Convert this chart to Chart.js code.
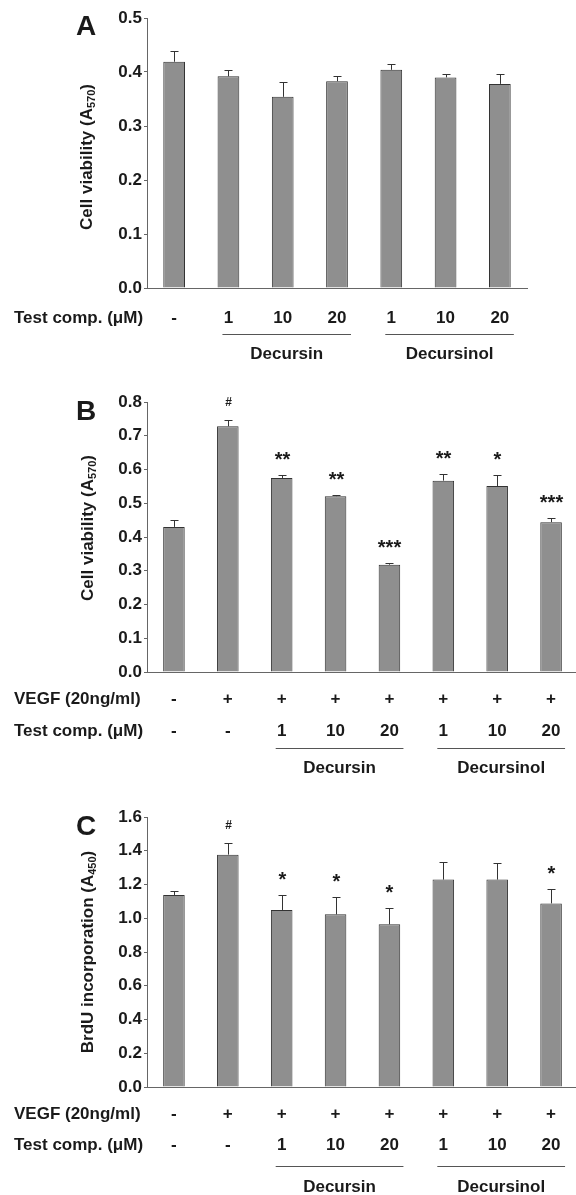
<!DOCTYPE html>
<html>
<head>
<meta charset="utf-8">
<script src="https://cdn.jsdelivr.net/npm/chart.js@4.4.1/dist/chart.umd.min.js"></script>
<style>
  html, body { margin: 0; padding: 0; background: #fff; overflow: hidden; width: 576px; height: 1195px; }
  canvas { position: absolute; left: 0; }
</style>
</head>
<body>
<canvas id="chartA"></canvas>
<canvas id="chartB"></canvas>
<canvas id="chartC"></canvas>
<script>
// ---- data ----
// Panel A: cell viability without VEGF
const testCompA = ["-", "1", "10", "20", "1", "10", "20"];
const viabilityA = [0.419, 0.392, 0.354, 0.383, 0.404, 0.390, 0.378];
const viabilityErrA = [0.019, 0.011, 0.027, 0.010, 0.010, 0.007, 0.018];

// Panels B and C share the treatment rows
const vegfRow = ["-", "+", "+", "+", "+", "+", "+", "+"];
const testCompRow = ["-", "-", "1", "10", "20", "1", "10", "20"];

// Panel B: cell viability with VEGF
const viabilityB = [0.430, 0.728, 0.575, 0.521, 0.318, 0.567, 0.551, 0.444];
const viabilityErrB = [0.021, 0.018, 0.008, 0.003, 0.005, 0.019, 0.032, 0.012];
const marksB = ["", "#", "**", "**", "***", "**", "*", "***"];

// Panel C: BrdU incorporation
const brduC = [1.138, 1.377, 1.049, 1.023, 0.964, 1.229, 1.229, 1.088];
const brduErrC = [0.021, 0.069, 0.089, 0.100, 0.097, 0.107, 0.100, 0.087];
const marksC = ["", "#", "*", "*", "*", "", "", "*"];

// compound groups (first and last category index)
const groupsA = [{ name: "Decursin", from: 1, to: 3 }, { name: "Decursinol", from: 4, to: 6 }];
const groupsBC = [{ name: "Decursin", from: 2, to: 4 }, { name: "Decursinol", from: 5, to: 7 }];

const FONT = "'Liberation Sans', Arial, sans-serif";
const INK = "#1a1a1a";
const AXIS = "#666";

// error bars (upper half only) and significance marks
const errorBarsPlugin = {
  id: "errorBars",
  afterDatasetsDraw(chart, args, opts) {
    const ctx = chart.ctx;
    const yScale = chart.scales.y;
    const ds = chart.data.datasets[0];
    const meta = chart.getDatasetMeta(0);
    ctx.save();
    ctx.strokeStyle = "#333";
    ctx.lineWidth = 1;
    meta.data.forEach((bar, i) => {
      const top = Math.round(yScale.getPixelForValue(ds.data[i] + opts.errors[i])) + 0.5;
      const x = Math.round(bar.x) + 0.5;
      ctx.beginPath();
      ctx.moveTo(x, bar.y);
      ctx.lineTo(x, top);
      ctx.moveTo(x - 4, top);
      ctx.lineTo(x + 4, top);
      ctx.stroke();

      const mark = opts.marks ? opts.marks[i] : "";
      if (mark) {
        ctx.fillStyle = INK;
        ctx.textAlign = "center";
        ctx.textBaseline = "alphabetic";
        if (mark === "#") {
          ctx.font = "bold 12px " + FONT;
          ctx.fillText(mark, x, top - 15);
        } else {
          ctx.font = "bold 20px " + FONT;
          ctx.fillText(mark, x, top - 10);
        }
      }
    });
    ctx.restore();
  }
};

// panel letter, rotated y title with subscript, treatment rows and groups
const panelTextPlugin = {
  id: "panelText",
  afterDraw(chart, args, opts) {
    const ctx = chart.ctx;
    const xScale = chart.scales.x;
    const bottom = chart.chartArea.bottom;
    ctx.save();
    ctx.fillStyle = INK;

    // panel letter
    ctx.font = "bold 28px " + FONT;
    ctx.textAlign = "left";
    ctx.textBaseline = "alphabetic";
    ctx.fillText(opts.letter, 76, opts.letterY);

    // y axis title: main text + subscript
    ctx.save();
    ctx.translate(opts.titleX, opts.titleY);
    ctx.rotate(-Math.PI / 2);
    ctx.textBaseline = "middle";
    ctx.font = "bold 17px " + FONT;
    const w1 = ctx.measureText(opts.title[0]).width;
    ctx.font = "bold 11px " + FONT;
    const w2 = ctx.measureText(opts.title[1]).width;
    ctx.font = "bold 17px " + FONT;
    const w3 = ctx.measureText(opts.title[2]).width;
    let x = -(w1 + w2 + w3) / 2;
    ctx.textAlign = "left";
    ctx.fillText(opts.title[0], x, 0);
    x += w1;
    ctx.font = "bold 11px " + FONT;
    ctx.fillText(opts.title[1], x, 5);
    x += w2;
    ctx.font = "bold 17px " + FONT;
    ctx.fillText(opts.title[2], x, 0);
    ctx.restore();

    // treatment rows
    ctx.font = "bold 17px " + FONT;
    ctx.textBaseline = "middle";
    opts.rows.forEach((row) => {
      const y = bottom + row.dy;
      ctx.textAlign = "left";
      ctx.fillText(row.title, 14, y);
      ctx.textAlign = "center";
      row.values.forEach((v, i) => {
        ctx.fillText(v, xScale.getPixelForValue(i), y);
      });
    });

    // compound groups: underline + name
    opts.groups.forEach((g) => {
      const x0 = xScale.getPixelForValue(g.from) - 6;
      const x1 = xScale.getPixelForValue(g.to) + 14;
      const yl = Math.round(bottom + opts.lineDy) + 0.5;
      ctx.strokeStyle = "#555";
      ctx.lineWidth = 1;
      ctx.beginPath();
      ctx.moveTo(x0, yl);
      ctx.lineTo(x1, yl);
      ctx.stroke();
      ctx.textAlign = "center";
      ctx.fillText(g.name, (x0 + x1) / 2, bottom + opts.nameDy);
    });
    ctx.restore();
  }
};

function makePanel(id, top, width, height, pad, values, errors, marks, yMax, step, text) {
  const canvas = document.getElementById(id);
  canvas.width = width;
  canvas.height = height;
  canvas.style.top = top + "px";
  canvas.style.width = width + "px";
  canvas.style.height = height + "px";
  return new Chart(canvas, {
    type: "bar",
    data: {
      labels: values.map((v, i) => String(i)),
      datasets: [{
        data: values,
        backgroundColor: "#8f8f8f",
        borderColor: "#333",
        borderWidth: 1,
        barPercentage: 0.4,
        categoryPercentage: 1.0
      }]
    },
    options: {
      responsive: false,
      animation: false,
      devicePixelRatio: 1,
      layout: { autoPadding: false, padding: pad },
      plugins: {
        legend: { display: false },
        tooltip: { enabled: false },
        errorBars: { errors: errors, marks: marks },
        panelText: text
      },
      scales: {
        x: {
          grid: { display: false },
          ticks: { display: false },
          border: { display: true, color: AXIS },
          afterFit: (s) => { s.height = 0; }
        },
        y: {
          min: 0,
          max: yMax,
          ticks: {
            stepSize: step,
            padding: 2,
            color: INK,
            font: { family: FONT, size: 17, weight: "bold" },
            callback: (v) => Number(v).toFixed(1)
          },
          grid: { display: true, drawOnChartArea: false, drawTicks: true, tickLength: 3, color: AXIS },
          border: { display: true, color: AXIS },
          afterFit: (s) => { s.width = 147; }
        }
      }
    },
    plugins: [errorBarsPlugin, panelTextPlugin]
  });
}

makePanel("chartA", 0, 576, 372, { top: 18, right: 49, bottom: 84, left: 0 },
  viabilityA, viabilityErrA, null, 0.5, 0.1, {
    letter: "A", letterY: 35,
    title: ["Cell viability (A", "570", ")"], titleX: 87, titleY: 157,
    rows: [{ title: "Test comp. (\u03bcM)", values: testCompA, dy: 30 }],
    groups: groupsA, lineDy: 46, nameDy: 66
  });

makePanel("chartB", 372, 578, 406, { top: 30, right: 0, bottom: 106, left: 0 },
  viabilityB, viabilityErrB, marksB, 0.8, 0.1, {
    letter: "B", letterY: 48,
    title: ["Cell viability (A", "570", ")"], titleX: 88, titleY: 156,
    rows: [
      { title: "VEGF (20ng/ml)", values: vegfRow, dy: 27 },
      { title: "Test comp. (\u03bcM)", values: testCompRow, dy: 59 }
    ],
    groups: groupsBC, lineDy: 76, nameDy: 96
  });

makePanel("chartC", 778, 578, 417, { top: 39, right: 0, bottom: 108, left: 0 },
  brduC, brduErrC, marksC, 1.6, 0.2, {
    letter: "C", letterY: 57,
    title: ["BrdU incorporation (A", "450", ")"], titleX: 88, titleY: 174,
    rows: [
      { title: "VEGF (20ng/ml)", values: vegfRow, dy: 27 },
      { title: "Test comp. (\u03bcM)", values: testCompRow, dy: 58 }
    ],
    groups: groupsBC, lineDy: 79, nameDy: 100
  });
</script>
</body>
</html>
